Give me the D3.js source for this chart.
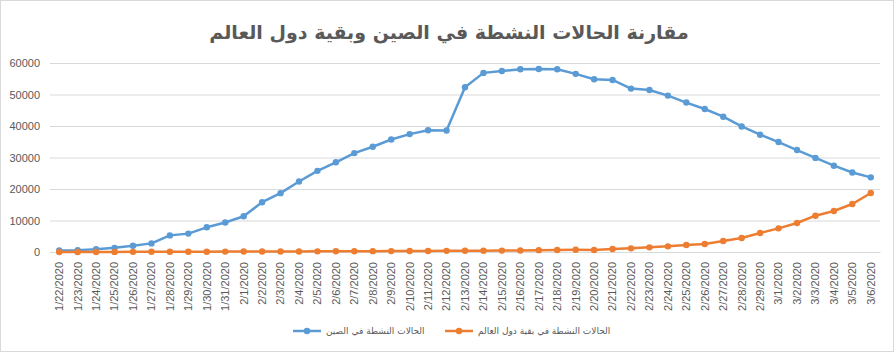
<!DOCTYPE html>
<html>
<head>
<meta charset="utf-8">
<script src="https://cdn.jsdelivr.net/npm/d3@7"></script>
<style>
    body { margin: 0; background: #fff; }
    svg { display: block; }
    .tick text { fill: #595959; font-family: "Liberation Sans", Arial, sans-serif; }
</style>
</head>
<body>
<svg id="chart" width="894" height="352"></svg>
<script>

// dates on the x axis
let dates = ["1/22/2020","1/23/2020","1/24/2020","1/25/2020","1/26/2020","1/27/2020","1/28/2020","1/29/2020","1/30/2020","1/31/2020",
    "2/1/2020","2/2/2020","2/3/2020","2/4/2020","2/5/2020","2/6/2020","2/7/2020","2/8/2020","2/9/2020","2/10/2020",
    "2/11/2020","2/12/2020","2/13/2020","2/14/2020","2/15/2020","2/16/2020","2/17/2020","2/18/2020","2/19/2020","2/20/2020",
    "2/21/2020","2/22/2020","2/23/2020","2/24/2020","2/25/2020","2/26/2020","2/27/2020","2/28/2020","2/29/2020",
    "3/1/2020","3/2/2020","3/3/2020","3/4/2020","3/5/2020","3/6/2020"];

// active cases in China
let china = [503, 595, 858, 1325, 1970, 2737, 5277, 5834, 7835, 9375,
    11357, 15806, 18677, 22374, 25763, 28479, 31395, 33415, 35707, 37426,
    38640, 38564, 52314, 56865, 57457, 58000, 58116, 58010, 56553, 54839,
    54621, 51873, 51409, 49658, 47441, 45398, 42958, 39849, 37241,
    34900, 32370, 29866, 27404, 25233, 23701];

// active cases in the rest of the world
let world = [7, 10, 20, 30, 45, 60, 75, 85, 100, 130,
    140, 150, 155, 175, 210, 220, 250, 270, 290, 310,
    340, 360, 400, 420, 440, 480, 590, 630, 700, 650,
    950, 1160, 1480, 1800, 2220, 2540, 3490, 4440, 6030,
    7510, 9200, 11530, 13020, 15240, 18730];

let yTicks = [0, 10000, 20000, 30000, 40000, 50000, 60000];

let title = "مقارنة الحالات النشطة في الصين وبقية دول العالم";
let seriesNames = ["الحالات النشطة في الصين", "الحالات النشطة في بقية دول العالم"];
let colors = ["#5b9bd5", "#ed7d31"];

let svg = d3.select("#chart");

// outer border
svg.append("rect")
    .attr("x", 0.5).attr("y", 0.5)
    .attr("width", 893).attr("height", 351)
    .attr("fill", "#fff")
    .attr("stroke", "#d9d9d9");

svg.append("text")
    .attr("x", 449).attr("y", 39)
    .attr("text-anchor", "middle")
    .attr("fill", "#595959")
    .style("font-family", "'DejaVu Sans', sans-serif")
    .style("font-weight", "bold")
    .style("font-size", "19px")
    .attr("direction", "rtl")
    .text(title);

let plotLeft = 50, plotRight = 880, plotTop = 63, plotBottom = 252;

let xScale = d3.scaleBand()
    .domain(dates)
    .range([plotLeft, plotRight]);

let yScale = d3.scaleLinear()
    .domain([0, 60000])
    .range([plotBottom, plotTop]);

// grid lines
let yAxis = d3.axisLeft(yScale)
    .tickValues(yTicks)
    .tickSize(-(plotRight - plotLeft))
    .tickPadding(10)
    .tickFormat(d3.format("d"));

let gy = svg.append("g")
    .attr("transform", "translate(" + plotLeft + ",0)")
    .call(yAxis);
gy.select(".domain").remove();
gy.selectAll(".tick line").attr("stroke", "#d9d9d9");
gy.selectAll(".tick text").style("font-size", "11px");

let xAxis = d3.axisBottom(xScale).tickSize(0).tickPadding(0);
let gx = svg.append("g")
    .attr("transform", "translate(0," + plotBottom + ")")
    .call(xAxis);
gx.select(".domain").attr("stroke", "#d9d9d9");
gx.selectAll(".tick text")
    .style("font-size", "11px")
    .attr("text-anchor", "end")
    .attr("dy", "0.35em")
    .attr("y", 0)
    .attr("transform", "translate(0,10) rotate(-90)");

let line = d3.line()
    .x((d, i) => xScale(dates[i]) + xScale.bandwidth() / 2)
    .y(d => yScale(d));

[china, world].forEach(function (series, k) {
    svg.append("path")
        .datum(series)
        .attr("fill", "none")
        .attr("stroke", colors[k])
        .attr("stroke-width", 2.5)
        .attr("stroke-linejoin", "round")
        .attr("d", line);

    svg.append("g").selectAll("circle")
        .data(series)
        .enter()
        .append("circle")
        .attr("cx", (d, i) => xScale(dates[i]) + xScale.bandwidth() / 2)
        .attr("cy", d => yScale(d))
        .attr("r", 3.2)
        .attr("fill", colors[k]);
});

// legend
let legendX = [293, 445];
seriesNames.forEach(function (name, k) {
    let g = svg.append("g").attr("transform", "translate(" + legendX[k] + ",331)");
    g.append("line")
        .attr("x1", 0).attr("x2", 28)
        .attr("stroke", colors[k])
        .attr("stroke-width", 2.5);
    g.append("circle")
        .attr("cx", 14).attr("r", 3.2)
        .attr("fill", colors[k]);
    g.append("text")
        .attr("x", 33).attr("dy", "0.35em")
        .attr("fill", "#595959")
        .style("font-family", "'DejaVu Sans', sans-serif")
        .style("font-size", "9px")
        .text(name);
});
</script>
</body>
</html>
